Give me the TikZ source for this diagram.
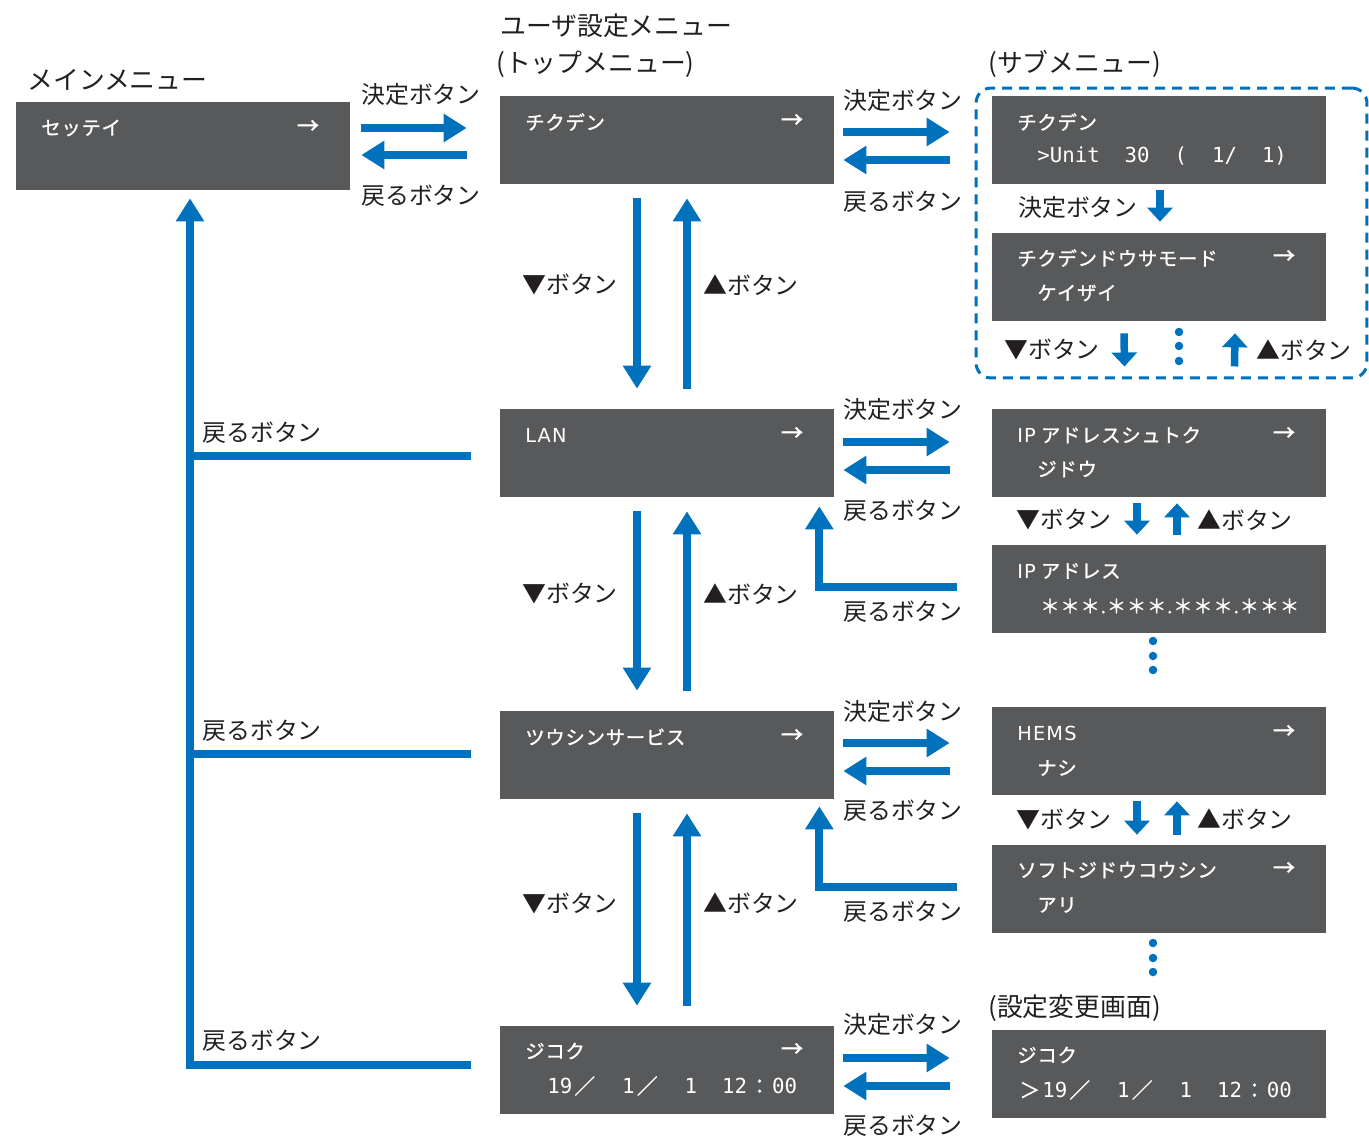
\documentclass[tikz,border=0pt]{standalone}
\usepackage{fontspec}
\setmainfont{Noto Sans CJK JP}
\newfontfamily\lcdfont[LetterSpace=4, FakeBold=1.2]{Noto Sans CJK JP}
\newfontfamily\lcdlatin[LetterSpace=6]{DejaVu Sans}
\newfontfamily\lcdmono{DejaVu Sans Mono}
\newfontfamily\symfont[FakeBold=2]{Noto Sans CJK JP}
\newcommand{\fw}[1]{\makebox[1.204em]{\lcdfont #1}}
\usepackage{xcolor}
\usetikzlibrary{calc, arrows.meta, positioning}
\definecolor{panelgray}{HTML}{58595B}
\definecolor{keyblue}{HTML}{0071BC}
\definecolor{inkgray}{HTML}{231F20}

\begin{document}
\begin{tikzpicture}[x=0.02cm, y=-0.02cm,
    panel/.style={fill=panelgray, minimum width=6.68cm, minimum height=1.76cm, inner sep=0pt},
    lcd/.style={text=white, font=\lcdfont\fontsize{11}{13}\selectfont, anchor=west, inner sep=0pt},
    lcdval/.style={text=white, font=\lcdmono\fontsize{11.8}{14}\selectfont, anchor=west, inner sep=0pt},
    lcdarr/.style={text=white, font=\symfont\fontsize{12.5}{14}\selectfont, inner sep=0pt},
    btnlabel/.style={text=inkgray, font=\fontsize{13.6}{16}\selectfont, inner sep=0pt},
    menutitle/.style={text=inkgray, font=\fontsize{14.7}{18}\selectfont, anchor=west, inner sep=0pt},
    keyarrow/.style={draw=keyblue, line width=0.16cm, -{Triangle[length=0.46cm, width=0.54cm]}},
    keyline/.style={draw=keyblue, line width=0.16cm},
    smallarrow/.style={draw=keyblue, line width=0.15cm, -{Triangle[length=0.28cm, width=0.5cm]}},
]
    \useasboundingbox (0,0) rectangle (1369,1138);

    % Überschriften
    \node[menutitle] (hmain) at (27,80) {メインメニュー};
    \node[menutitle] (htop) at (500,26) {ユーザ設定メニュー};
    \node[menutitle] (htopb) at (496,64) {(トップメニュー)};
    \node[menutitle] (hsub) at (988,64) {(サブメニュー)};
    \node[menutitle] (hchange) at (988,1008) {(設定変更画面)};

    % Rahmen der Untermenüs
    \node[draw=keyblue, line width=0.06cm, dash pattern=on 0.2cm off 0.14cm, rounded corners=0.3cm,
          minimum width=7.82cm, minimum height=5.8cm, inner sep=0pt] (subframe) at (1171.5,233) {};

    % Hauptmenü und Top-Menü
    \node[panel] (main) at (183,146) {};
    \node[panel] (chikuden) at (667,140) {};
    \node[panel] (lan) at (667,453) {};
    \node[panel] (tsushin) at (667,755) {};
    \node[panel] (jikoku) at (667,1070) {};

    % Untermenüs
    \node[panel] (subchikuden) at (1159,140) {};
    \node[panel] (chikudenmode) at (1159,277) {};
    \node[panel] (ipshutoku) at (1159,453) {};
    \node[panel] (ipaddr) at (1159,589) {};
    \node[panel] (hems) at (1159,751) {};
    \node[panel] (soft) at (1159,889) {};
    \node[panel] (subjikoku) at (1159,1074) {};

    % Anzeigetexte
    \node[lcd] (main-t) at (41,128) {セッテイ};
    \node[lcdarr] (main-a) at (308,127) {→};
    \node[lcd] (chikuden-t) at (525,122) {チクデン};
    \node[lcdarr] (chikuden-a) at (792,121) {→};
    \node[lcd] (lan-t) at (525,435) {\lcdlatin LAN};
    \node[lcdarr] (lan-a) at (792,434) {→};
    \node[lcd] (tsushin-t) at (525,737) {ツウシンサービス};
    \node[lcdarr] (tsushin-a) at (792,736) {→};
    \node[lcd] (jikoku-t) at (525,1051) {ジコク};
    \node[lcdarr] (jikoku-a) at (792,1050) {→};
    \node[lcdval] (jikoku-v) at (547,1086) {19\fw{／}\ \ 1\fw{／}\ \ 1\ \ 12\fw{：}00};

    \node[lcd] (subchikuden-t) at (1017,122) {チクデン};
    \node[lcdval] (subchikuden-v) at (1037,156) {>Unit\ \ 30\ \ (\ \ 1/\ \ 1)};
    \node[lcd] (chikudenmode-t) at (1017,258) {チクデンドウサモード};
    \node[lcdarr] (chikudenmode-a) at (1284,257) {→};
    \node[lcd] (chikudenmode-v) at (1037,293) {ケイザイ};
    \node[lcd] (ipshutoku-t) at (1017,435) {{\lcdlatin IP} アドレスシュトク};
    \node[lcdarr] (ipshutoku-a) at (1284,434) {→};
    \node[lcd] (ipshutoku-v) at (1037,469) {ジドウ};
    \node[lcd] (ipaddr-t) at (1017,571) {{\lcdlatin IP} アドレス};
    \node[lcd] (ipaddr-v) at (1040,606) {＊＊＊.＊＊＊.＊＊＊.＊＊＊};
    \node[lcd] (hems-t) at (1017,733) {\lcdlatin HEMS};
    \node[lcdarr] (hems-a) at (1284,732) {→};
    \node[lcd] (hems-v) at (1037,768) {ナシ};
    \node[lcd] (soft-t) at (1017,870) {ソフトジドウコウシン};
    \node[lcdarr] (soft-a) at (1284,869) {→};
    \node[lcd] (soft-v) at (1037,905) {アリ};
    \node[lcd] (subjikoku-t) at (1017,1055) {ジコク};
    \node[lcdval] (subjikoku-v) at (1017,1090) {\fw{＞}19\fw{／}\ \ 1\fw{／}\ \ 1\ \ 12\fw{：}00};

    % Hauptmenü <-> Top-Menü
    \draw[keyarrow] ($(main.east)+(11,-18)$) -- ($(chikuden.west)+(-33,-12)$);
    \draw[keyarrow] ($(chikuden.west)+(-33,15)$) -- ($(main.east)+(11,9)$);
    \node[btnlabel] (ok0) at (421,94) {決定ボタン};
    \node[btnlabel] (back0) at (421,196) {戻るボタン};

    % Top-Menü <-> Untermenü
    \foreach \a/\b/\u/\v/\w in {chikuden/subchikuden/-8/20/0, lan/ipshutoku/-11/17/0,
                                tsushin/hems/-12/16/4, jikoku/subjikoku/-12/16/-4} {
        \draw[keyarrow] ($(\a.east)+(9,\u)$) -- ($(\b.west)+(-42,{\u+\w})$);
        \draw[keyarrow] ($(\b.west)+(-42,{\v+\w})$) -- ($(\a.east)+(9,\v)$);
    }
    \node[btnlabel] (ok1) at (903,100) {決定ボタン};
    \node[btnlabel] (back1) at (903,202) {戻るボタン};
    \node[btnlabel] (ok2) at (903,409) {決定ボタン};
    \node[btnlabel] (back2) at (903,511) {戻るボタン};
    \node[btnlabel] (ok3) at (903,711) {決定ボタン};
    \node[btnlabel] (back3) at (903,811) {戻るボタン};
    \node[btnlabel] (ok4) at (903,1024) {決定ボタン};
    \node[btnlabel] (back4) at (903,1126) {戻るボタン};

    % Blättern im Top-Menü
    \foreach \a/\b in {chikuden/lan, lan/tsushin, tsushin/jikoku} {
        \draw[keyarrow] ($(\a.south)+(-30,14)$) -- ($(\b.north)+(-30,-20)$);
        \draw[keyarrow] ($(\b.north)+(20,-20)$) -- ($(\a.south)+(20,14)$);
    }
    \foreach \y/\n in {285/1, 594/2, 903/3} {
        \node[btnlabel] (down\n) at (570,\y) {▼ボタン};
        \node[btnlabel] (up\n) at (751,\y) {▲ボタン};
    }

    % zurück zum Hauptmenü
    \coordinate (spine) at ($(main.south)+(7,8)$);
    \draw[keyarrow] ($(jikoku.west)+(-29,-5)$) -| (spine);
    \draw[keyline] ($(lan.west)+(-29,3)$) -- ($(spine |- lan.west)+(0,3)$);
    \draw[keyline] ($(tsushin.west)+(-29,-1)$) -- ($(spine |- tsushin.west)+(0,-1)$);
    \node[btnlabel, anchor=west] (mback1) at (202,433) {戻るボタン};
    \node[btnlabel, anchor=west] (mback2) at (202,731) {戻るボタン};
    \node[btnlabel, anchor=west] (mback3) at (202,1041) {戻るボタン};

    % zurück aus dem Untermenü
    \draw[keyarrow] ($(ipaddr.west)+(-35,-2)$) -| ($(lan.south east)+(-15,9)$);
    \draw[keyarrow] ($(soft.west)+(-35,-2)$) -| ($(tsushin.south east)+(-15,7)$);
    \node[btnlabel] (lback1) at (903,612) {戻るボタン};
    \node[btnlabel] (lback2) at (903,912) {戻るボタン};

    % Blättern in den Untermenüs
    \draw[smallarrow] ($(subchikuden.south)+(1,6)$) -- ($(chikudenmode.north)+(1,-11)$);
    \node[btnlabel] (subok) at (1078,207) {決定ボタン};
    \draw[smallarrow] ($(chikudenmode.south)+(-35,12)$) -- ($(subframe.south)+(-47,-13)$);
    \draw[smallarrow] ($(subframe.south)+(63,-13)$) -- ($(chikudenmode.south)+(76,12)$);
    \node[btnlabel] (subdown0) at (1052,350) {▼ボタン};
    \node[btnlabel] (subup0) at (1304,350) {▲ボタン};
    \foreach \y in {332,346,361} \fill[keyblue] (1179,\y) circle (0.085cm);

    \foreach \a/\b/\y/\n in {ipshutoku/ipaddr/520/1, hems/soft/819/2} {
        \draw[smallarrow] ($(\a.south)+(-22,6)$) -- ($(\b.north)+(-22,-10)$);
        \draw[smallarrow] ($(\b.north)+(18,-10)$) -- ($(\a.south)+(18,6)$);
        \node[btnlabel] (subdown\n) at (1064,\y) {▼ボタン};
        \node[btnlabel] (subup\n) at (1245,\y) {▲ボタン};
    }
    \foreach \y in {641,656,670,943,958,972} \fill[keyblue] (1153,\y) circle (0.085cm);
\end{tikzpicture}
\end{document}
